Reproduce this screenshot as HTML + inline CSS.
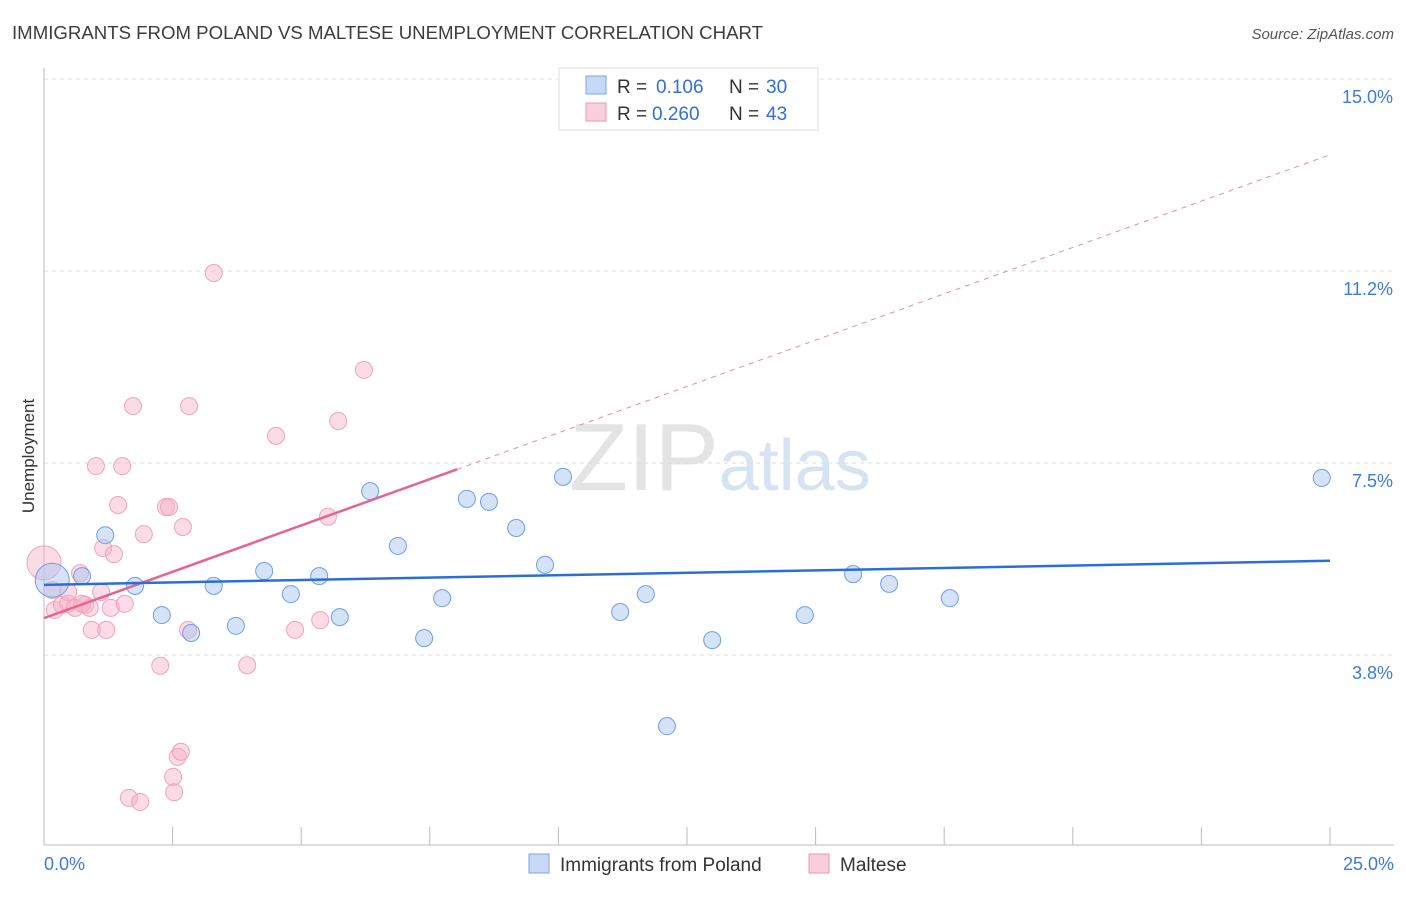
<!DOCTYPE html>
<html><head><meta charset="utf-8"><style>
body{margin:0;background:#fff;font-family:"Liberation Sans",sans-serif}
svg text{font-family:"Liberation Sans",sans-serif}
</style></head><body>
<svg id="chart" width="1406" height="892" xmlns="http://www.w3.org/2000/svg">
<text x="12" y="39" font-size="18" fill="#3c3c3c" textLength="751" lengthAdjust="spacingAndGlyphs">IMMIGRANTS FROM POLAND VS MALTESE UNEMPLOYMENT CORRELATION CHART</text>
<text x="1394" y="39" font-size="15" fill="#555" font-style="italic" text-anchor="end">Source: ZipAtlas.com</text>
<text x="720" y="490" font-size="96" fill="#e4e4e4" text-anchor="middle" font-family="Liberation Serif">ZIP<tspan fill="#d5e3f3" font-family="Liberation Sans" font-size="72">atlas</tspan></text>
<text transform="translate(34,456) rotate(-90)" font-size="17" fill="#333" text-anchor="middle">Unemployment</text>
<g id="grid"></g><g id="axes"></g><g id="marks"></g>
<g>
<rect x="559" y="68" width="259" height="62" fill="#fff" stroke="#ddd"/>
<rect x="586" y="76" width="20" height="18" fill="#c7d9f5" stroke="#7aa6e6"/>
<text x="617" y="93" font-size="19" fill="#333">R =</text>
<text x="656" y="93" font-size="19" fill="#2f6fd6">0.106</text>
<text x="729" y="93" font-size="19" fill="#333">N =</text>
<text x="766" y="93" font-size="19" fill="#2f6fd6">30</text>
<rect x="586" y="103" width="20" height="18" fill="#f9cfdc" stroke="#ec97b1"/>
<text x="617" y="120" font-size="19" fill="#333">R =</text>
<text x="652" y="120" font-size="19" fill="#2f6fd6">0.260</text>
<text x="729" y="120" font-size="19" fill="#333">N =</text>
<text x="766" y="120" font-size="19" fill="#2f6fd6">43</text>
</g>
<g>
<rect x="529" y="854" width="20" height="19" fill="#c7d9f5" stroke="#7aa6e6"/>
<text x="560" y="871" font-size="19" fill="#333">Immigrants from Poland</text>
<rect x="809" y="854" width="20" height="19" fill="#f9cfdc" stroke="#ec97b1"/>
<text x="840" y="871" font-size="19" fill="#333">Maltese</text>
</g>
</svg>
<script>
const yTicks=[3.75,7.5,11.25,15];
const yTickLabels=["3.8%","7.5%","11.2%","15.0%"];
const xTickVals=[0,2.5,5,7.5,10,12.5,15,17.5,20,22.5,25];
const polandX=[0.16,1.19,1.77,0.74,2.29,2.86,3.30,3.73,4.28,4.80,5.35,5.75,6.34,6.88,7.39,7.74,8.22,8.65,9.18,9.74,10.09,11.20,11.70,12.99,12.11,14.79,15.73,16.43,17.61,24.84];
const polandY=[5.21,6.09,5.10,5.29,4.53,4.18,5.10,4.32,5.39,4.94,5.29,4.49,6.95,5.88,4.08,4.86,6.80,6.74,6.23,5.51,7.23,4.59,4.94,4.04,2.36,4.53,5.33,5.14,4.86,7.21];
const malteseX=[0,0.16,0.21,0.35,0.47,0.60,0.70,0.80,0.89,0.93,1.01,1.11,1.15,1.21,1.30,1.36,1.44,1.52,1.57,1.73,1.94,2.26,2.37,2.43,2.51,2.53,2.60,2.66,2.70,2.80,2.82,3.30,3.95,4.51,4.88,5.37,5.52,5.72,6.22,1.65,1.87,0.47,0.74];
const malteseY=[5.55,5.02,4.63,4.73,4.75,4.67,5.35,4.73,4.67,4.24,7.44,4.98,5.84,4.24,4.67,5.72,6.68,7.44,4.75,8.61,6.11,3.54,6.64,6.64,1.37,1.07,1.76,1.86,6.25,4.24,8.61,11.21,3.55,8.03,4.24,4.43,6.45,8.32,9.32,0.96,0.88,4.98,4.75];
const polandLine=[5.12,5.59];
const malteseLine=[4.47,13.52];
const malteseSolidEnd=8.03;
const NS="http://www.w3.org/2000/svg";
const sx=v=>44+v*51.44, sy=v=>655-(v-3.75)*51.2;
function mk(tag,attrs,parent){const e=document.createElementNS(NS,tag);for(const k in attrs)e.setAttribute(k,attrs[k]);document.getElementById(parent).appendChild(e);return e;}
yTicks.forEach((t,i)=>{
 const l=mk('line',{x1:44,x2:1394,y1:sy(t),y2:sy(t),stroke:'#ddd','stroke-dasharray':'4,4'},'grid');
 
 
 const tx=mk('text',{x:1393,y:sy(t)+24,'font-size':18,fill:'#3d7bd9','text-anchor':'end'},'grid');
 tx.textContent=yTickLabels[i];
 
 
});
let ax=mk('line',{x1:44,x2:44,y1:68,y2:845,stroke:'#bbb'},'axes');


ax=mk('line',{x1:44,x2:1394,y1:845,y2:845,stroke:'#bbb'},'axes');


xTickVals.forEach(v=>{const t=mk('line',{x1:sx(v),x2:sx(v),y1:827,y2:845,stroke:'#bbb'},'axes');
 
 });
let xl=mk('text',{x:44,y:870,'font-size':18,fill:'#3d7bd9'},'axes');xl.textContent='0.0%';


xl=mk('text',{x:1394,y:870,'font-size':18,fill:'#3d7bd9','text-anchor':'end'},'axes');xl.textContent='25.0%';


malteseX.forEach((x,i)=>{const r=(i===0)?17:8.5;const c=mk('circle',{cx:sx(x),cy:sy(malteseY[i]),r:r,fill:'rgba(246,176,200,0.45)',stroke:'#f0a3bc','stroke-width':1},'marks');
 
 });
polandX.forEach((x,i)=>{const r=(i===0)?17:8.5;const c=mk('circle',{cx:sx(x),cy:sy(polandY[i]),r:r,fill:'rgba(170,199,240,0.5)',stroke:'#6f9fe3','stroke-width':1},'marks');
 
 });
const pm=(malteseLine[1]-malteseLine[0])/25;
let ln=mk('line',{x1:sx(malteseSolidEnd),y1:sy(malteseLine[0]+pm*malteseSolidEnd),x2:sx(25),y2:sy(malteseLine[1]),stroke:'#e98aa8','stroke-width':1,'stroke-dasharray':'5,5'},'marks');


ln=mk('line',{x1:sx(0),y1:sy(malteseLine[0]),x2:sx(malteseSolidEnd),y2:sy(malteseLine[0]+pm*malteseSolidEnd),stroke:'#e6648e','stroke-width':2.5},'marks');


ln=mk('line',{x1:sx(0),y1:sy(polandLine[0]),x2:sx(25),y2:sy(polandLine[1]),stroke:'#2b6fd6','stroke-width':2.5},'marks');


</script>
</body></html>
